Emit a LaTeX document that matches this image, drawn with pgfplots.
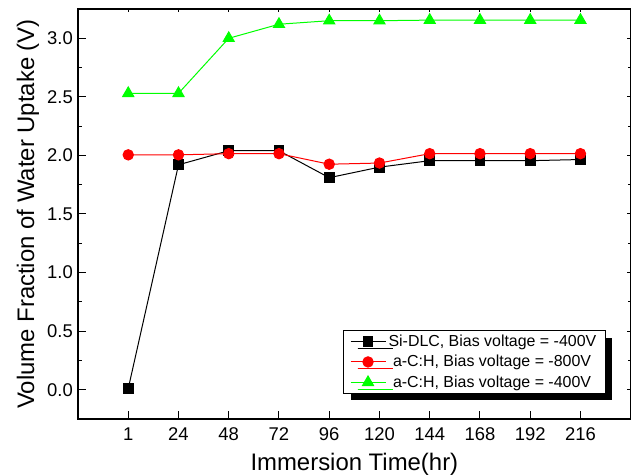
\documentclass[border=0pt]{standalone}
\usepackage{fontspec}
\setmainfont{Liberation Sans}
\usepackage{pgfplots}
\pgfplotsset{compat=1.18}
\usetikzlibrary{shadows}

\pgfplotsset{
  mybase/.style={
    scale only axis, width=552.7bp, height=410bp,
    at={(78bp,56bp)}, anchor=south west,
    xmin=-1, xmax=10, ymin=-0.25, ymax=3.25,
    xtick={0,...,9}, ytick={0,0.5,...,3}, minor y tick num=1,
    tick align=inside,
    axis line style={line width=1.5bp, black},
    every tick/.style={black, line width=1bp},
  }
}

\begin{document}
\begin{tikzpicture}
\path[use as bounding box] (0,0) rectangle (633bp,475bp);
% top / right short ticks
\begin{axis}[mybase,
  xtick pos=right, ytick pos=right,
  major tick length=3.5bp, minor tick length=2.5bp,
  xticklabels={}, yticklabels={},
]
\end{axis}
\begin{axis}[mybase,
  xtick pos=left, ytick pos=left,
  major tick length=8bp, minor tick length=4bp,
  xticklabels={1,24,48,72,96,120,144,168,192,216},
  /pgf/number format/assume math mode=true,
  ticklabel style={font=\fontsize{18.5}{19}\selectfont},
  xticklabel style={anchor=base, yshift=-21.7bp, inner sep=0pt},
  yticklabel style={anchor=east, xshift=-5bp, inner sep=0pt,
    /pgf/number format/fixed, /pgf/number format/fixed zerofill,
    /pgf/number format/precision=1},
  xlabel={Immersion Time(hr)},
  ylabel={Volume Fraction of Water Uptake (V)},
  xlabel style={at={(axis description cs:0.5,-0.1255)}, anchor=base,
    font=\fontsize{24}{25}\selectfont, inner sep=0pt},
  ylabel style={at={(axis description cs:-0.0796,0.5)}, anchor=base,
    font=\fontsize{24}{25}\selectfont, inner sep=0pt},
  legend style={at={(axis description cs:0.4795,0.217)}, anchor=north west,
    draw=black, line width=1bp, fill=white,
    drop shadow={shadow xshift=7bp, shadow yshift=-7bp, fill=black, opacity=1},
    font=\fontsize{16}{18}\selectfont,
    inner xsep=6.5bp, inner ysep=0.75bp,
    nodes={inner xsep=2.5bp, inner ysep=3.7bp},
    cells={anchor=west}},
  legend image code/.code={\draw[mark repeat=2,mark phase=2] plot coordinates {(0bp,0bp)(17.5bp,0bp)(35bp,0bp)};},
]
\addplot[black, line width=1bp, mark=square*, mark size=4.9bp, mark options={solid, fill=black, draw=black}]
  coordinates {(0,0.01)(1,1.92)(2,2.04)(3,2.04)(4,1.81)(5,1.90)(6,1.955)(7,1.955)(8,1.955)(9,1.965)};
\addlegendentry{Si-DLC, Bias voltage = -400V\hspace{14bp}}
\addplot[red, line width=1bp, mark=*, mark size=5.2bp, mark options={solid, fill=red, draw=red}]
  coordinates {(0,2.005)(1,2.005)(2,2.015)(3,2.015)(4,1.925)(5,1.935)(6,2.015)(7,2.015)(8,2.015)(9,2.015)};
\addlegendentry{\hspace{4.5bp}a-C:H, Bias voltage = -800V\hspace{14bp}}
\addplot[green, line width=1bp, mark=triangle*, mark size=6.4bp, mark options={solid, fill=green, draw=green}]
  coordinates {(0,2.53)(1,2.53)(2,3.00)(3,3.12)(4,3.15)(5,3.15)(6,3.155)(7,3.155)(8,3.155)(9,3.155)};
\addlegendentry{\hspace{4.5bp}a-C:H, Bias voltage = -400V\hspace{14bp}}
\end{axis}
\end{tikzpicture}
\end{document}
